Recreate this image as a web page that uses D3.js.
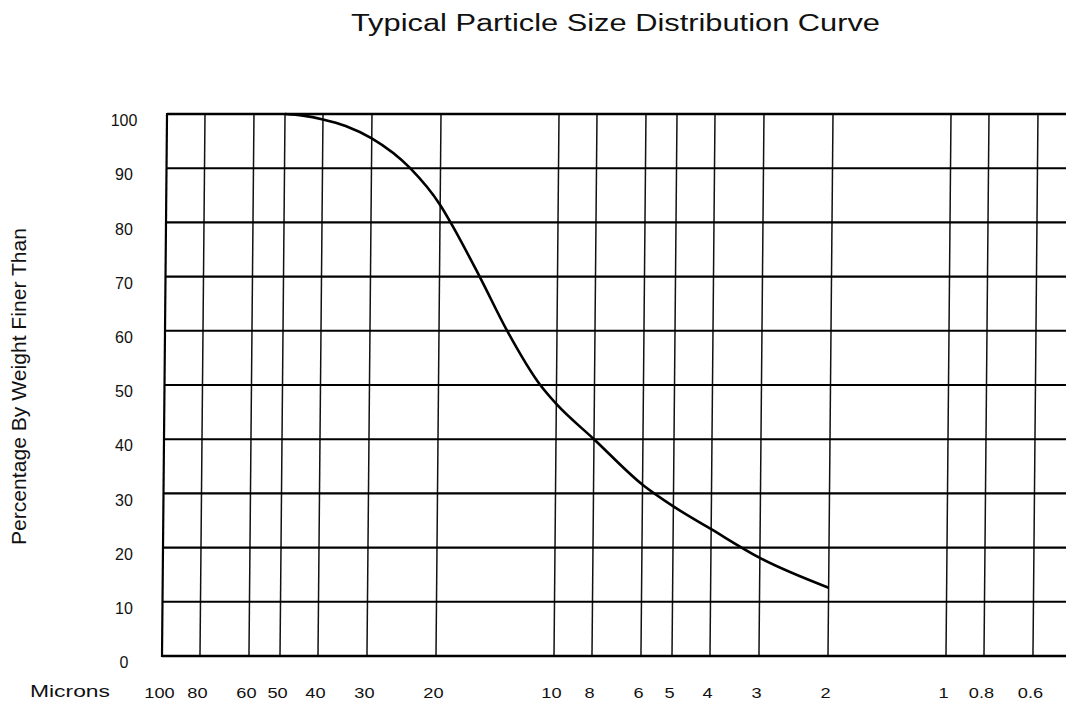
<!DOCTYPE html>
<html>
<head>
<meta charset="utf-8">
<script src="https://cdn.jsdelivr.net/npm/d3@7"></script>
<style>
  html, body { margin: 0; padding: 0; background: #fff; }
  svg { display: block; }
  text { font-family: "Liberation Sans", Arial, Helvetica, sans-serif; fill: #111; }
</style>
</head>
<body>
<svg id="chart" width="1066" height="704"></svg>
<script>
// Particle size (microns) and cumulative percentage by weight finer than that size
const sizes = [50, 45, 40, 35, 30, 23.9, 20, 18.8, 15.8, 13.4, 11.0, 10, 8, 6, 5, 4, 3, 2];
const finer = [100, 99.7, 99.0, 97.8, 95.5, 90, 83.2, 80, 70, 60, 50, 46.5, 40, 31.6, 27.6, 23.4, 18.1, 12.6];

// Axis tick values
const sizeTicks = [100, 80, 60, 50, 40, 30, 20, 10, 8, 6, 5, 4, 3, 2, 1, 0.8, 0.6];
const percentTicks = [0, 10, 20, 30, 40, 50, 60, 70, 80, 90, 100];

const titleText = "Typical Particle Size Distribution Curve";
const yTitle = "Percentage By Weight Finer Than";
const xUnit = "Microns";

const W = 1066, H = 704;
const plot = { left: 162, right: 1064, top: 114, bottom: 656 };

const svg = d3.select("#chart");
svg.append("rect").attr("width", W).attr("height", H).attr("fill", "#fff");

// Log scale, coarse sizes on the left
const x = d3.scaleLog().domain([100, 0.5]).range([plot.left, plot.right]);
const y = d3.scaleLinear().domain([0, 100]).range([plot.bottom, plot.top]);

// widen a text element horizontally by factor k
function widen(sel, k) {
  sel.each(function () {
    const w = this.getComputedTextLength();
    d3.select(this).attr("textLength", w * k).attr("lengthAdjust", "spacingAndGlyphs");
  });
}

// Title
svg.append("text")
  .attr("x", 615.5).attr("y", 30.5)
  .attr("text-anchor", "middle")
  .attr("font-size", 23.5)
  .attr("textLength", 529).attr("lengthAdjust", "spacingAndGlyphs")
  .text(titleText);

// Plot body: grid, frame and curve share a slight lean
const lean = Math.tan(0.53 * Math.PI / 180);
const body = svg.append("g")
  .attr("transform", `translate(${lean * plot.bottom},0) skewX(-0.53)`);

// vertical size grid lines
body.append("g")
  .selectAll("line")
  .data(sizeTicks.filter(d => d !== 100))
  .join("line")
  .attr("x1", d => x(d)).attr("x2", d => x(d))
  .attr("y1", y(100)).attr("y2", y(0))
  .attr("stroke", "#111").attr("stroke-width", 1.5);

// horizontal percentage grid lines
body.append("g")
  .selectAll("line")
  .data(percentTicks)
  .join("line")
  .attr("x1", x(100)).attr("x2", W + 4)
  .attr("y1", d => y(d)).attr("y2", d => y(d))
  .attr("stroke", "#000")
  .attr("stroke-width", d => (d === 0 || d === 100) ? 2.6 : 2.1);

// left frame at 100 microns
body.append("line")
  .attr("x1", x(100)).attr("x2", x(100))
  .attr("y1", y(100) - 1).attr("y2", y(0) + 1)
  .attr("stroke", "#000").attr("stroke-width", 2.2);

// distribution curve
const pts = sizes.map((s, i) => [s, finer[i]]);
const line = d3.line()
  .x(d => x(d[0]))
  .y(d => y(d[1]))
  .curve(d3.curveMonotoneX);
body.append("path")
  .datum(pts)
  .attr("d", line)
  .attr("fill", "none")
  .attr("stroke", "#000")
  .attr("stroke-width", 2.6)
  .attr("stroke-linejoin", "round");

// X axis labels
const gx = svg.append("g")
  .attr("transform", `translate(0,${plot.bottom})`)
  .call(d3.axisBottom(x).tickValues(sizeTicks).tickFormat(d => String(d)).tickSize(0).tickPadding(32));
gx.select(".domain").remove();
gx.attr("font-family", null).attr("font-size", null).attr("color", "#111");
gx.selectAll("text").attr("font-size", 14).attr("dx", -3).call(widen, 1.3);

svg.append("text")
  .attr("x", 30).attr("y", 697)
  .attr("font-size", 16)
  .attr("textLength", 80).attr("lengthAdjust", "spacingAndGlyphs")
  .text(xUnit);

// Y axis labels
const gy = svg.append("g")
  .attr("transform", "translate(124,0)")
  .call(d3.axisLeft(y).tickValues(percentTicks).tickFormat(d => String(d)).tickSize(0).tickPadding(0));
gy.select(".domain").remove();
gy.attr("font-family", null).attr("font-size", null).attr("color", "#111");
gy.selectAll("text")
  .attr("font-size", 16)
  .attr("text-anchor", "middle")
  .attr("x", 0).attr("y", 6).attr("dy", "0.35em");

svg.append("text")
  .attr("transform", "translate(26,386.5) rotate(-90)")
  .attr("text-anchor", "middle")
  .attr("font-size", 19.5)
  .attr("textLength", 317).attr("lengthAdjust", "spacingAndGlyphs")
  .text(yTitle);
</script>
</body>
</html>
